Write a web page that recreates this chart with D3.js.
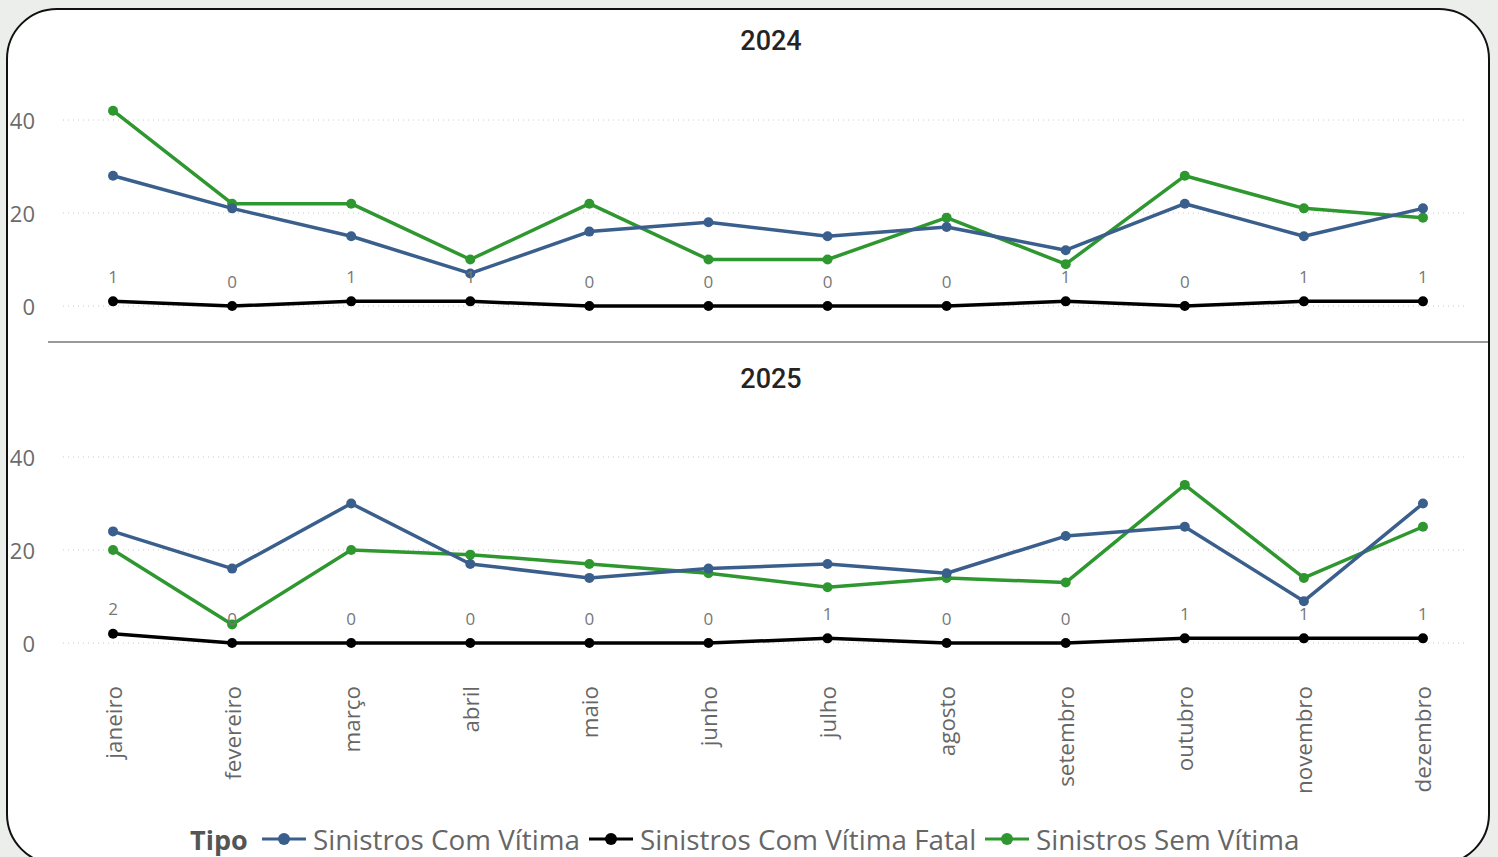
<!DOCTYPE html>
<html>
<head lang="pt">
  <title>Sinistros 2024-2025</title>
  <script src="https://d3js.org/d3.v7.min.js" charset="utf-8"></script>
  <style>
    body { margin: 0; background: #eceeec; }
    text { font-family: "Open Sans", sans-serif; }
  </style>
</head>
<body>
  <script>
    // dados
    var months = ["janeiro", "fevereiro", "março", "abril", "maio", "junho",
                  "julho", "agosto", "setembro", "outubro", "novembro", "dezembro"];
    var years = ["2024", "2025"];
    var seriesNames = ["Sinistros Com Vítima", "Sinistros Com Vítima Fatal", "Sinistros Sem Vítima"];
    var comVitima2024 = [28, 21, 15, 7, 16, 18, 15, 17, 12, 22, 15, 21];
    var fatal2024     = [1, 0, 1, 1, 0, 0, 0, 0, 1, 0, 1, 1];
    var semVitima2024 = [42, 22, 22, 10, 22, 10, 10, 19, 9, 28, 21, 19];
    var comVitima2025 = [24, 16, 30, 17, 14, 16, 17, 15, 23, 25, 9, 30];
    var fatal2025     = [2, 0, 0, 0, 0, 0, 1, 0, 0, 1, 1, 1];
    var semVitima2025 = [20, 4, 20, 19, 17, 15, 12, 14, 13, 34, 14, 25];
    var yTicks = [0, 20, 40];

    var colors = ["#3a5f8c", "#000000", "#2f972f"];
    var panelData = [
      [comVitima2024, fatal2024, semVitima2024],
      [comVitima2025, fatal2025, semVitima2025]
    ];

    var width = 1498;
    var height = 857;

    var svg = d3.select("body")
      .append("svg")
      .attr("width", width)
      .attr("height", height);

    // cartão
    svg.append("rect")
      .attr("x", 7).attr("y", 9)
      .attr("width", 1482).attr("height", 855)
      .attr("rx", 50).attr("ry", 50)
      .style("fill", "#fff")
      .style("stroke", "#111")
      .style("stroke-width", 2);

    var x = d3.scalePoint()
      .domain(months)
      .range([53.5, 1482.5])
      .padding(0.5);

    var panels = [
      { title: 40, zero: 306 },
      { title: 378, zero: 643 }
    ];

    panels.forEach(function(p, pi) {
      var y = d3.scaleLinear()
        .domain([0, 40])
        .range([p.zero, p.zero - 186]);

      var g = svg.append("g");

      g.append("text")
        .attr("x", 771).attr("y", p.title + 1)
        .attr("text-anchor", "middle")
        .attr("dominant-baseline", "central")
        .style("font-family", "Roboto, sans-serif")
        .style("font-weight", 500)
        .style("font-size", "27px")
        .style("fill", "#252423")
        .text(years[pi]);

      // grade
      g.selectAll(".grid")
        .data(yTicks)
        .enter().append("line")
          .attr("x1", 63).attr("x2", 1468)
          .attr("y1", function(d) { return y(d); })
          .attr("y2", function(d) { return y(d); })
          .style("stroke", "#c8c8c8")
          .style("stroke-width", 1)
          .style("stroke-dasharray", "1,4");

      g.selectAll(".ytick")
        .data(yTicks)
        .enter().append("text")
          .attr("x", 35)
          .attr("y", function(d) { return y(d); })
          .attr("text-anchor", "end")
          .attr("dominant-baseline", "central")
          .style("font-size", "22px")
          .style("fill", "#6b6b6b")
          .text(function(d) { return d; });

      var line = d3.line()
        .x(function(d, i) { return x(months[i]); })
        .y(function(d) { return y(d); });

      var order = [1, 2, 0];
      order.forEach(function(si) {
        var vals = panelData[pi][si];
        g.append("path")
          .datum(vals)
          .attr("d", line)
          .style("fill", "none")
          .style("stroke", colors[si])
          .style("stroke-width", 3.5)
          .style("stroke-linejoin", "round");
        g.selectAll(".pt" + si)
          .data(vals)
          .enter().append("circle")
            .attr("cx", function(d, i) { return x(months[i]); })
            .attr("cy", function(d) { return y(d); })
            .attr("r", 5)
            .style("fill", colors[si]);
      });

      // rótulos de dados (vítima fatal)
      g.selectAll(".lbl")
        .data(panelData[pi][1])
        .enter().append("text")
          .attr("x", function(d, i) { return x(months[i]); })
          .attr("y", function(d) { return y(d) - 25; })
          .attr("text-anchor", "middle")
          .attr("dominant-baseline", "central")
          .style("font-size", "17px")
          .style("fill", "#777")
          .text(function(d) { return d; });
    });

    // separador
    svg.append("line")
      .attr("x1", 48).attr("x2", 1488)
      .attr("y1", 342).attr("y2", 342)
      .style("stroke", "#9a9a9a")
      .style("stroke-width", 2);

    // eixo x
    svg.selectAll(".month")
      .data(months)
      .enter().append("text")
        .attr("transform", function(d) { return "translate(" + x(d) + ",686) rotate(-90)"; })
        .attr("text-anchor", "end")
        .attr("dominant-baseline", "central")
        .style("font-size", "22.4px")
        .style("fill", "#666")
        .text(function(d) { return d; });

    // legenda
    var legend = svg.append("g").attr("transform", "translate(190,839)");
    legend.append("text")
      .attr("x", 0).attr("y", 0)
      .attr("dominant-baseline", "central")
      .style("font-size", "27px")
      .style("font-weight", 700)
      .style("fill", "#555")
      .text("Tipo");
    var lx = [72, 399, 795];
    seriesNames.forEach(function(name, i) {
      var item = legend.append("g").attr("transform", "translate(" + lx[i] + ",0)");
      item.append("line")
        .attr("x1", 0).attr("x2", 44)
        .attr("y1", 0).attr("y2", 0)
        .style("stroke", colors[i])
        .style("stroke-width", 3);
      item.append("circle")
        .attr("cx", 22).attr("cy", 0).attr("r", 6)
        .style("fill", colors[i]);
      item.append("text")
        .attr("x", 51).attr("y", 0)
        .attr("dominant-baseline", "central")
        .style("font-size", "27.8px")
        .style("fill", "#666")
        .text(name);
    });
  </script>
</body>
</html>
